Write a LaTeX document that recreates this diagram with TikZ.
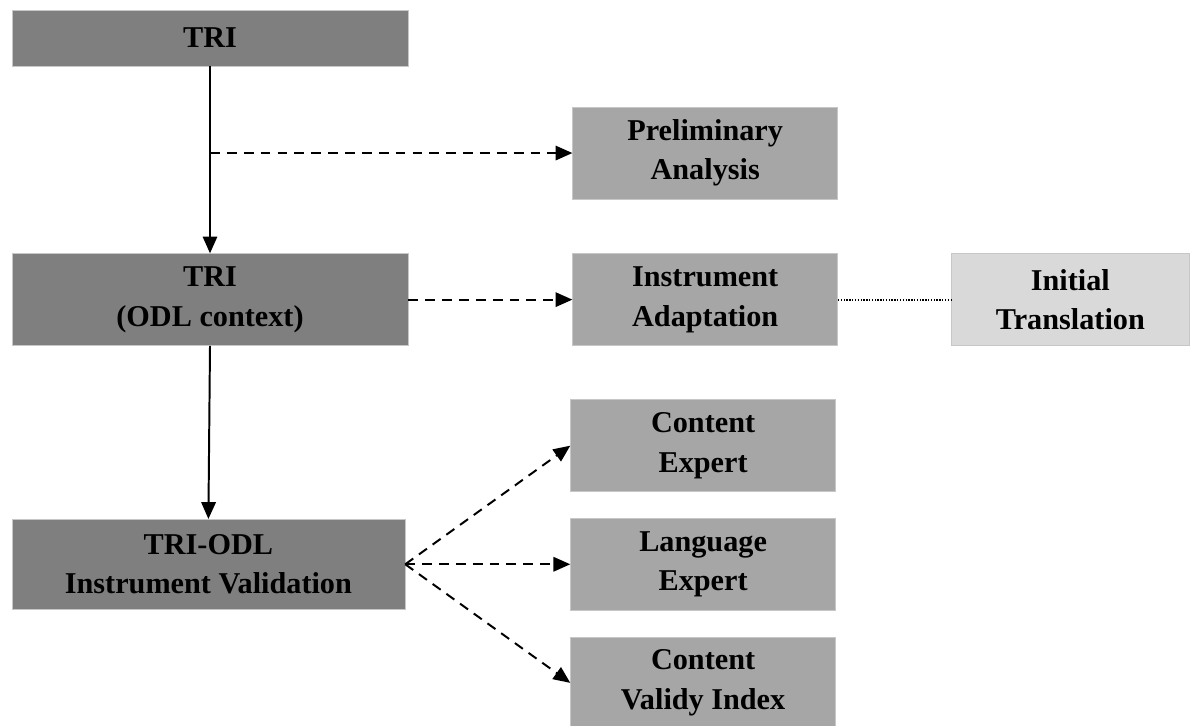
\documentclass[tikz,border=0pt]{standalone}
\usepackage{fontspec}
\setmainfont{Liberation Serif}
\usepackage{xcolor}
\usepackage{tikz}
\usetikzlibrary{positioning}
\usetikzlibrary{arrows.meta}

\definecolor{oscuro}{HTML}{7F7F7F}
\definecolor{medio}{HTML}{A6A6A6}
\definecolor{claro}{HTML}{D9D9D9}

\begin{document}
\begin{tikzpicture}[
  x=0.025cm, y=-0.025cm,
  caja/.style={fill=#1, draw=white!78!black, line width=0.4pt, align=center,
    inner sep=0pt, font=\fontsize{21.5}{28}\selectfont\bfseries},
  flecha/.style={-{Triangle[length=0.42cm,width=0.36cm]}, line width=1.4pt},
  discont/.style={flecha, dash pattern=on 7pt off 5pt},
  punteado/.style={line width=1.6pt, dash pattern=on 1pt off 1pt}
]
  \useasboundingbox (0,0) rectangle (1200,725);

  % Columna izquierda
  \node[caja=oscuro, minimum width=9.9cm, minimum height=1.4cm] (tri) at (210,38) {TRI};
  \node[caja=oscuro, minimum width=9.9cm, minimum height=2.3cm, below=4.675cm of tri] (odl) {TRI\\(ODL context)};
  \node[caja=oscuro, minimum width=9.825cm, minimum height=2.25cm, below=4.325cm of odl, xshift=-0.04cm] (valid) {TRI-ODL\\Instrument Validation};

  % Columna central
  \node[caja=medio, minimum width=6.625cm, minimum height=2.3cm, right=4.1cm of odl] (adapt) {Instrument\\Adaptation};
  \node[caja=medio, minimum width=6.625cm, minimum height=2.3cm, above=1.35cm of adapt] (prelim) {Preliminary\\Analysis};
  \node[caja=medio, minimum width=6.625cm, minimum height=2.3cm, right=4.125cm of valid] (lang) {Language\\Expert};
  \node[caja=medio, minimum width=6.625cm, minimum height=2.3cm, above=0.65cm of lang] (content) {Content\\Expert};
  \node[caja=medio, minimum width=6.625cm, minimum height=2.3cm, below=0.65cm of lang] (cvi) {Content\\Validy Index};

  % Columna derecha
  \node[caja=claro, minimum width=5.95cm, minimum height=2.3cm, right=2.825cm of adapt] (transl) {Initial\\Translation};

  % Conexiones
  \coordinate (rama) at (tri.south |- prelim.west);
  \draw[flecha] (tri.south) -- (odl.north);
  \draw[discont] (rama) -- (prelim.west);
  \draw[discont] (odl.east) -- (adapt.west);
  \draw[punteado] (adapt.east) -- (transl.west);
  \draw[flecha] (odl.south) -- (valid.north);
  \draw[discont] (valid.east) -- (content.west);
  \draw[discont] (valid.east) -- (lang.west);
  \draw[discont] (valid.east) -- (cvi.west);
\end{tikzpicture}
\end{document}
